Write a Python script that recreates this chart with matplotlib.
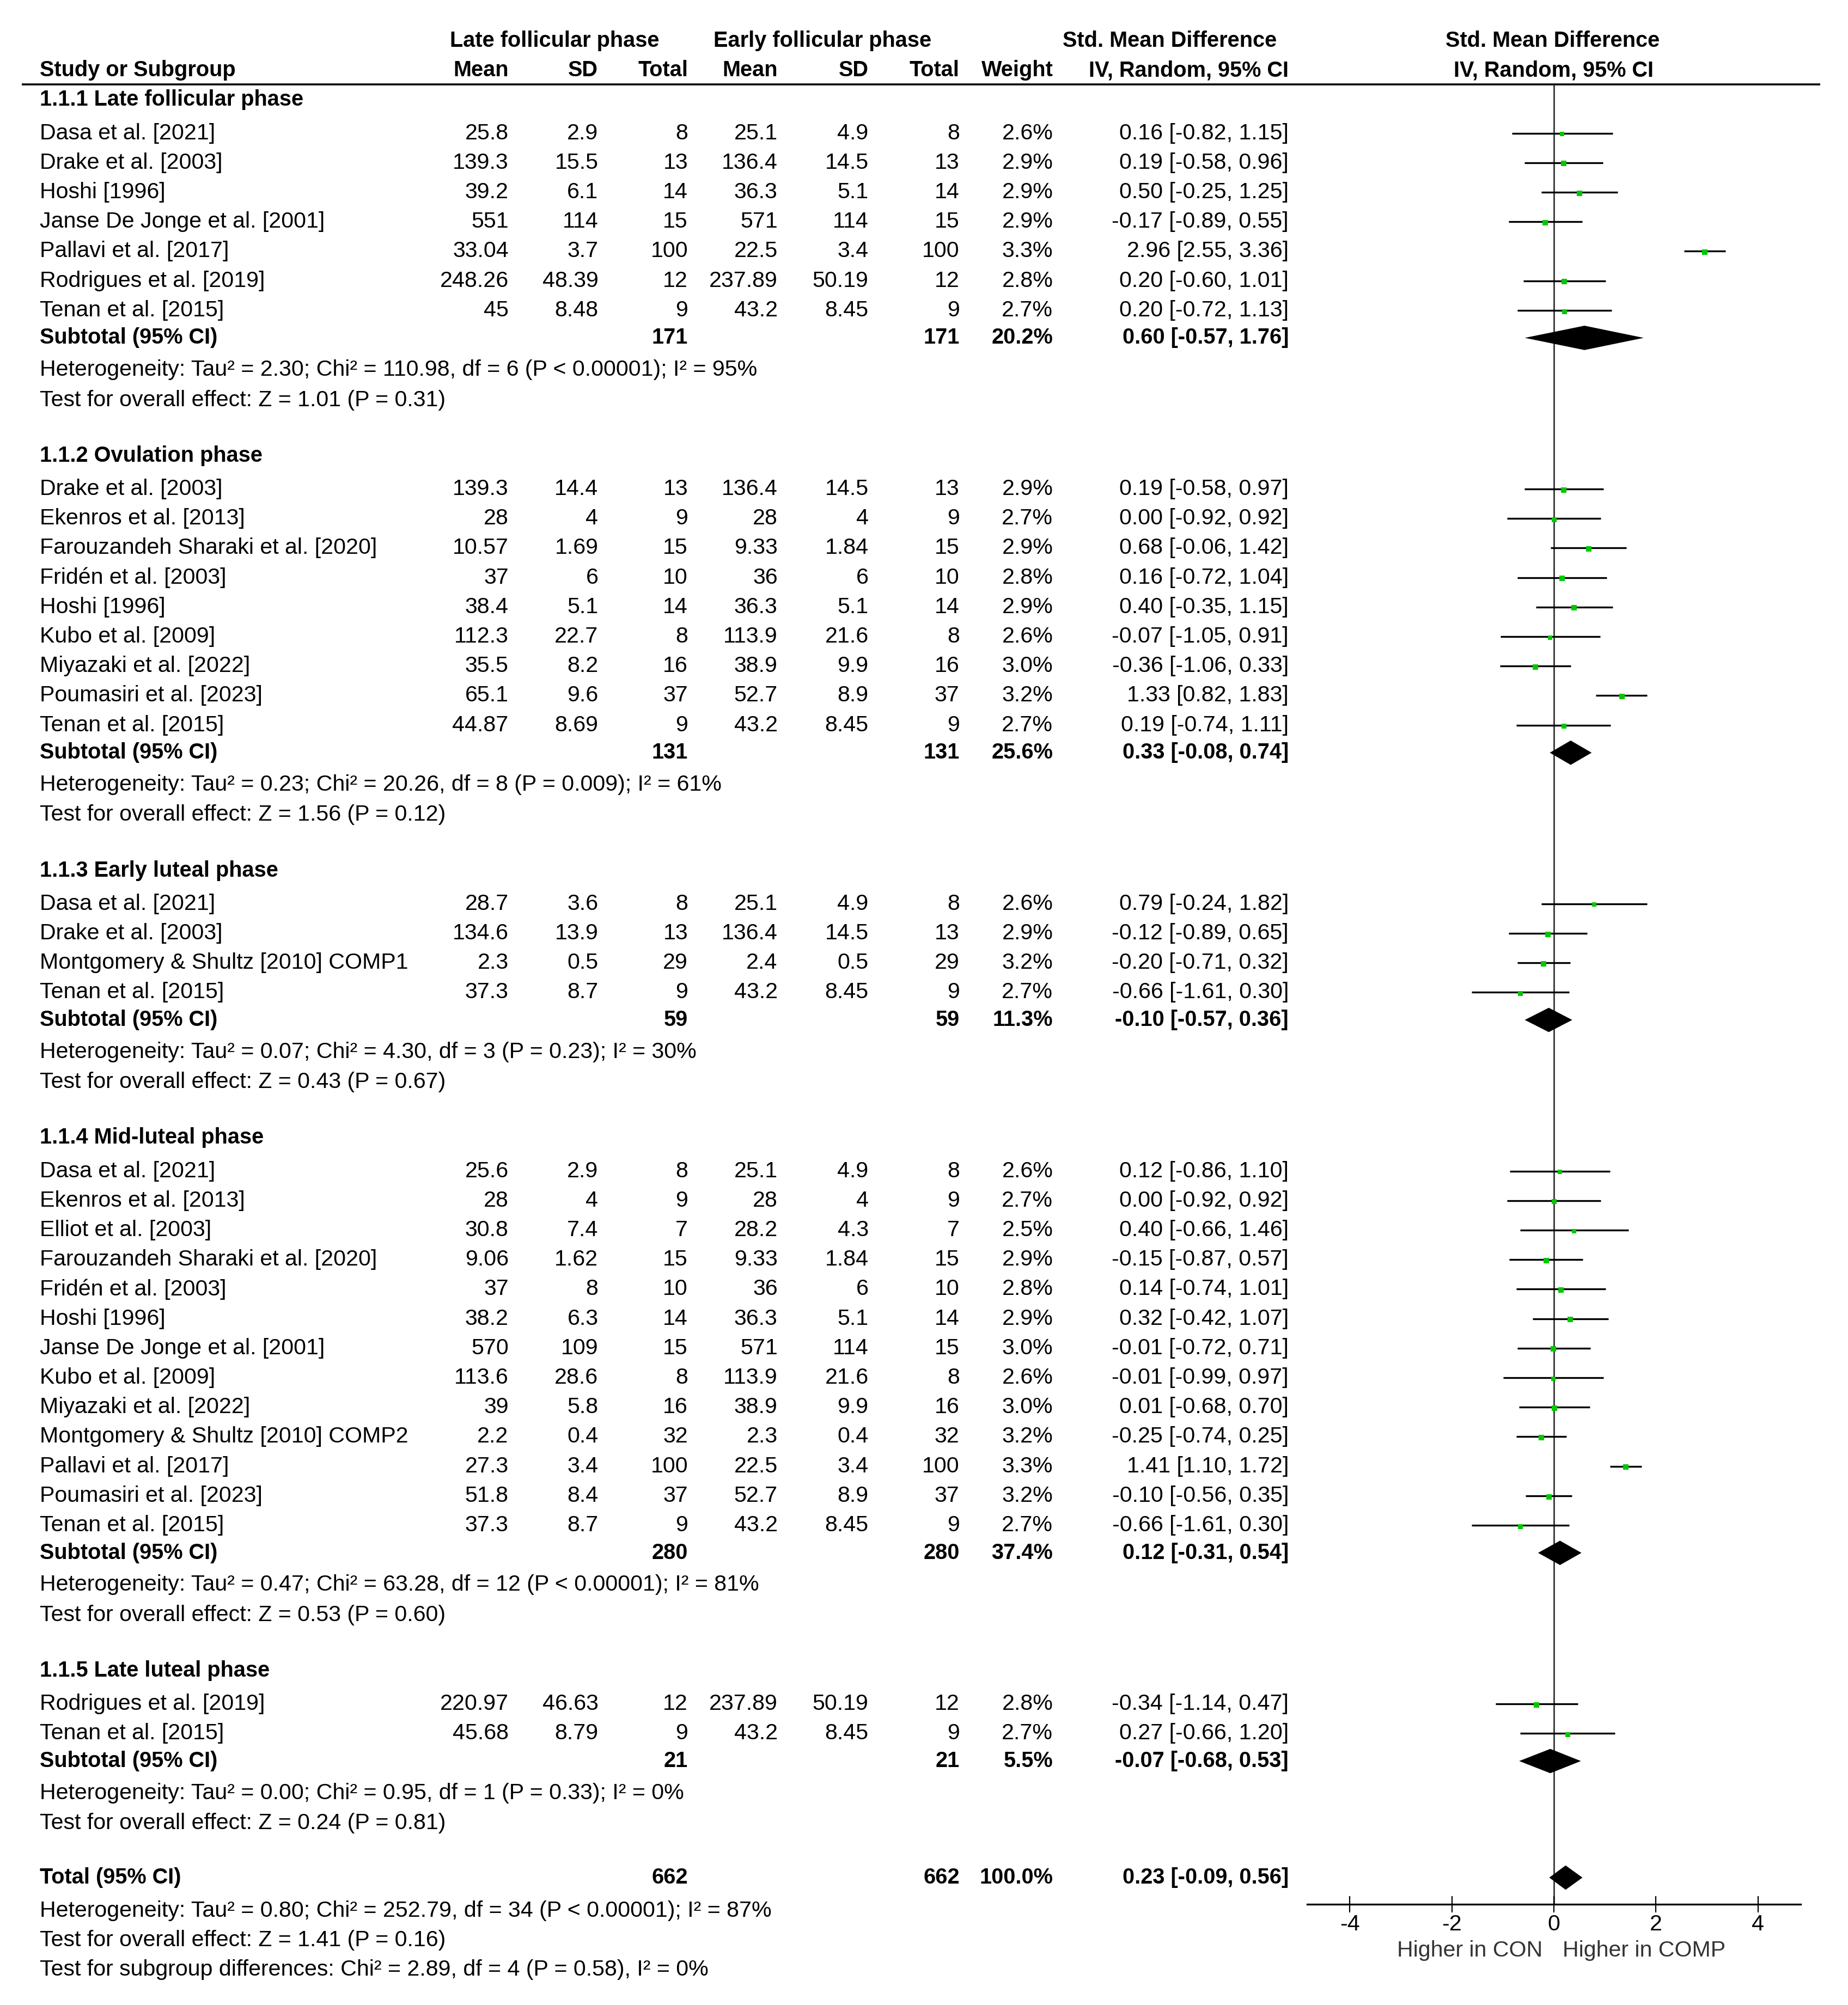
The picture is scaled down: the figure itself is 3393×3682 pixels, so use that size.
import matplotlib
matplotlib.use('Agg')
import matplotlib.pyplot as plt

plt.rcParams['font.family'] = ['Liberation Sans', 'DejaVu Sans']

# ---- data ----
group_titles = ["1.1.1 Late follicular phase", "1.1.2 Ovulation phase", "1.1.3 Early luteal phase",
                "1.1.4 Mid-luteal phase", "1.1.5 Late luteal phase"]

study_group = [0, 0, 0, 0, 0, 0, 0,
               1, 1, 1, 1, 1, 1, 1, 1, 1,
               2, 2, 2, 2,
               3, 3, 3, 3, 3, 3, 3, 3, 3, 3, 3, 3, 3,
               4, 4]
study_names = [
    "Dasa et al. [2021]", "Drake et al. [2003]", "Hoshi [1996]", "Janse De Jonge et al. [2001]",
    "Pallavi et al. [2017]", "Rodrigues et al. [2019]", "Tenan et al. [2015]",
    "Drake et al. [2003]", "Ekenros et al. [2013]", "Farouzandeh Sharaki et al. [2020]",
    "Fridén et al. [2003]", "Hoshi [1996]", "Kubo et al. [2009]", "Miyazaki et al. [2022]",
    "Poumasiri et al. [2023]", "Tenan et al. [2015]",
    "Dasa et al. [2021]", "Drake et al. [2003]", "Montgomery & Shultz [2010] COMP1", "Tenan et al. [2015]",
    "Dasa et al. [2021]", "Ekenros et al. [2013]", "Elliot et al. [2003]", "Farouzandeh Sharaki et al. [2020]",
    "Fridén et al. [2003]", "Hoshi [1996]", "Janse De Jonge et al. [2001]", "Kubo et al. [2009]",
    "Miyazaki et al. [2022]", "Montgomery & Shultz [2010] COMP2", "Pallavi et al. [2017]",
    "Poumasiri et al. [2023]", "Tenan et al. [2015]",
    "Rodrigues et al. [2019]", "Tenan et al. [2015]"]
late_mean = [25.8, 139.3, 39.2, 551, 33.04, 248.26, 45,
             139.3, 28, 10.57, 37, 38.4, 112.3, 35.5, 65.1, 44.87,
             28.7, 134.6, 2.3, 37.3,
             25.6, 28, 30.8, 9.06, 37, 38.2, 570, 113.6, 39, 2.2, 27.3, 51.8, 37.3,
             220.97, 45.68]
late_sd = [2.9, 15.5, 6.1, 114, 3.7, 48.39, 8.48,
           14.4, 4, 1.69, 6, 5.1, 22.7, 8.2, 9.6, 8.69,
           3.6, 13.9, 0.5, 8.7,
           2.9, 4, 7.4, 1.62, 8, 6.3, 109, 28.6, 5.8, 0.4, 3.4, 8.4, 8.7,
           46.63, 8.79]
late_n = [8, 13, 14, 15, 100, 12, 9,
          13, 9, 15, 10, 14, 8, 16, 37, 9,
          8, 13, 29, 9,
          8, 9, 7, 15, 10, 14, 15, 8, 16, 32, 100, 37, 9,
          12, 9]
early_mean = [25.1, 136.4, 36.3, 571, 22.5, 237.89, 43.2,
              136.4, 28, 9.33, 36, 36.3, 113.9, 38.9, 52.7, 43.2,
              25.1, 136.4, 2.4, 43.2,
              25.1, 28, 28.2, 9.33, 36, 36.3, 571, 113.9, 38.9, 2.3, 22.5, 52.7, 43.2,
              237.89, 43.2]
early_sd = [4.9, 14.5, 5.1, 114, 3.4, 50.19, 8.45,
            14.5, 4, 1.84, 6, 5.1, 21.6, 9.9, 8.9, 8.45,
            4.9, 14.5, 0.5, 8.45,
            4.9, 4, 4.3, 1.84, 6, 5.1, 114, 21.6, 9.9, 0.4, 3.4, 8.9, 8.45,
            50.19, 8.45]
early_n = [8, 13, 14, 15, 100, 12, 9,
           13, 9, 15, 10, 14, 8, 16, 37, 9,
           8, 13, 29, 9,
           8, 9, 7, 15, 10, 14, 15, 8, 16, 32, 100, 37, 9,
           12, 9]
weights = [2.6, 2.9, 2.9, 2.9, 3.3, 2.8, 2.7,
           2.9, 2.7, 2.9, 2.8, 2.9, 2.6, 3.0, 3.2, 2.7,
           2.6, 2.9, 3.2, 2.7,
           2.6, 2.7, 2.5, 2.9, 2.8, 2.9, 3.0, 2.6, 3.0, 3.2, 3.3, 3.2, 2.7,
           2.8, 2.7]
smd = [0.16, 0.19, 0.50, -0.17, 2.96, 0.20, 0.20,
       0.19, 0.00, 0.68, 0.16, 0.40, -0.07, -0.36, 1.33, 0.19,
       0.79, -0.12, -0.20, -0.66,
       0.12, 0.00, 0.40, -0.15, 0.14, 0.32, -0.01, -0.01, 0.01, -0.25, 1.41, -0.10, -0.66,
       -0.34, 0.27]
ci_low = [-0.82, -0.58, -0.25, -0.89, 2.55, -0.60, -0.72,
          -0.58, -0.92, -0.06, -0.72, -0.35, -1.05, -1.06, 0.82, -0.74,
          -0.24, -0.89, -0.71, -1.61,
          -0.86, -0.92, -0.66, -0.87, -0.74, -0.42, -0.72, -0.99, -0.68, -0.74, 1.10, -0.56, -1.61,
          -1.14, -0.66]
ci_high = [1.15, 0.96, 1.25, 0.55, 3.36, 1.01, 1.13,
           0.97, 0.92, 1.42, 1.04, 1.15, 0.91, 0.33, 1.83, 1.11,
           1.82, 0.65, 0.32, 0.30,
           1.10, 0.92, 1.46, 0.57, 1.01, 1.07, 0.71, 0.97, 0.70, 0.25, 1.72, 0.35, 0.30,
           0.47, 1.20]

sub_n_late = [171, 131, 59, 280, 21]
sub_n_early = [171, 131, 59, 280, 21]
sub_weight = [20.2, 25.6, 11.3, 37.4, 5.5]
sub_smd = [0.60, 0.33, -0.10, 0.12, -0.07]
sub_low = [-0.57, -0.08, -0.57, -0.31, -0.68]
sub_high = [1.76, 0.74, 0.36, 0.54, 0.53]
sub_het = ["Heterogeneity: Tau² = 2.30; Chi² = 110.98, df = 6 (P < 0.00001); I² = 95%",
           "Heterogeneity: Tau² = 0.23; Chi² = 20.26, df = 8 (P = 0.009); I² = 61%",
           "Heterogeneity: Tau² = 0.07; Chi² = 4.30, df = 3 (P = 0.23); I² = 30%",
           "Heterogeneity: Tau² = 0.47; Chi² = 63.28, df = 12 (P < 0.00001); I² = 81%",
           "Heterogeneity: Tau² = 0.00; Chi² = 0.95, df = 1 (P = 0.33); I² = 0%"]
sub_effect = ["Test for overall effect: Z = 1.01 (P = 0.31)",
              "Test for overall effect: Z = 1.56 (P = 0.12)",
              "Test for overall effect: Z = 0.43 (P = 0.67)",
              "Test for overall effect: Z = 0.53 (P = 0.60)",
              "Test for overall effect: Z = 0.24 (P = 0.81)"]

total_n_late = 662
total_n_early = 662
total_weight = 100.0
total_smd = 0.23
total_low = -0.09
total_high = 0.56
total_notes = ["Heterogeneity: Tau² = 0.80; Chi² = 252.79, df = 34 (P < 0.00001); I² = 87%",
               "Test for overall effect: Z = 1.41 (P = 0.16)",
               "Test for subgroup differences: Chi² = 2.89, df = 4 (P = 0.58), I² = 0%"]

axis_ticks = [-4, -2, 0, 2, 4]

# ---- layout (units: reference image / 2.352) ----
W, H = 3393 / 2.352, 3682 / 2.352
fs = 29.6
fs_bold = 28.6
col_x = [397, 467, 537, 607, 678, 749, 822, 1006]
name_x = 31
x0, unit, lim = 1213, 39.84, 4.83
axis_y = 1487
green = '#00c800'

fig = plt.figure(figsize=(33.93, 36.82), dpi=100)
ax = fig.add_axes([0, 0, 1, 1])
ax.set_xlim(0, W)
ax.set_ylim(H, 0)
ax.axis('off')

fx = fig.add_axes([(x0 - lim * unit) / W, 0, 2 * lim * unit / W, 1])
fx.set_xlim(-lim, lim)
fx.set_ylim(H, 0)
fx.axis('off')
fx.patch.set_alpha(0)


def txt(x, y, s, ha='left', bold=False, color='black'):
    ax.text(x, y, s, ha=ha, va='center', fontsize=fs_bold if bold else fs, color=color,
            fontweight='bold' if bold else 'normal')


def diamond(y, est, lo, hi):
    fx.fill([lo, est, hi, est], [y, y - 9.5, y, y + 9.5], color='black', lw=0)


# header
txt(433, 32, "Late follicular phase", ha='center', bold=True)
txt(642, 32, "Early follicular phase", ha='center', bold=True)
txt(913, 32, "Std. Mean Difference", ha='center', bold=True)
txt(1212, 32, "Std. Mean Difference", ha='center', bold=True)
txt(name_x, 55, "Study or Subgroup", bold=True)
for x, s in zip(col_x, ["Mean", "SD", "Total", "Mean", "SD", "Total", "Weight", "IV, Random, 95% CI"]):
    txt(x, 55, s, ha='right', bold=True)
txt(1213, 55, "IV, Random, 95% CI", ha='center', bold=True)
ax.hlines(66, 17, 1421, color='black', lw=2.6)

# zero line
fx.vlines(0, 66, axis_y, color='#333333', lw=2.0, zorder=1)

y = 78
for g, title in enumerate(group_titles):
    txt(name_x, y, title, bold=True)
    y += 26
    idx = [i for i, sg in enumerate(study_group) if sg == g]
    for k, i in enumerate(idx):
        if k > 0:
            y += 23.05
        txt(name_x, y, study_names[i])
        vals = [f"{late_mean[i]:g}", f"{late_sd[i]:g}", f"{late_n[i]}",
                f"{early_mean[i]:g}", f"{early_sd[i]:g}", f"{early_n[i]}",
                f"{weights[i]:.1f}%", f"{smd[i]:.2f} [{ci_low[i]:.2f}, {ci_high[i]:.2f}]"]
        for x, s in zip(col_x, vals):
            txt(x, y, s, ha='right')
        fx.hlines(y, ci_low[i], ci_high[i], color='black', lw=2.4, zorder=2)
        fx.plot(smd[i], y + 0.7, 's', ms=weights[i] * 2.4, color=green, mec=green, mew=0, zorder=3)
    y += 21.5
    txt(name_x, y, "Subtotal (95% CI)", bold=True)
    txt(col_x[2], y, f"{sub_n_late[g]}", ha='right', bold=True)
    txt(col_x[5], y, f"{sub_n_early[g]}", ha='right', bold=True)
    txt(col_x[6], y, f"{sub_weight[g]:.1f}%", ha='right', bold=True)
    txt(col_x[7], y, f"{sub_smd[g]:.2f} [{sub_low[g]:.2f}, {sub_high[g]:.2f}]", ha='right', bold=True)
    diamond(y, sub_smd[g], sub_low[g], sub_high[g])
    y += 25
    txt(name_x, y, sub_het[g])
    y += 23.5
    txt(name_x, y, sub_effect[g])
    y += 43.5

# overall
y -= 1
txt(name_x, y, "Total (95% CI)", bold=True)
txt(col_x[2], y, f"{total_n_late}", ha='right', bold=True)
txt(col_x[5], y, f"{total_n_early}", ha='right', bold=True)
txt(col_x[6], y, f"{total_weight:.1f}%", ha='right', bold=True)
txt(col_x[7], y, f"{total_smd:.2f} [{total_low:.2f}, {total_high:.2f}]", ha='right', bold=True)
diamond(y, total_smd, total_low, total_high)
y += 26
for note in total_notes:
    txt(name_x, y, note)
    y += 23

# x axis
xa = fig.add_axes([(x0 - lim * unit) / W, 1 - axis_y / H, 2 * lim * unit / W, 1e-4])
xa.set_xlim(-lim, lim)
xa.set_yticks([])
for side in ['top', 'left', 'right']:
    xa.spines[side].set_visible(False)
xa.spines['bottom'].set_linewidth(2.4)
xa.patch.set_alpha(0)
xa.set_xticks(axis_ticks)
xa.set_xticklabels([f"{t:g}" for t in axis_ticks])
xa.tick_params(axis='x', direction='inout', length=21, width=1.6, labelsize=fs, pad=2)
txt(1204, 1523, "Higher in CON", ha='right', color='#333333')
txt(1220, 1523, "Higher in COMP", ha='left', color='#333333')

plt.savefig("out.png", dpi=100)
